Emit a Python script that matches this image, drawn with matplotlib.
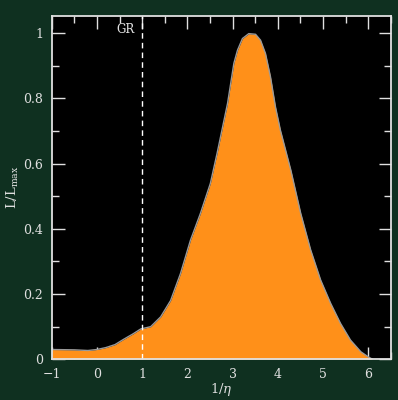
import matplotlib
matplotlib.use("Agg")
import matplotlib.pyplot as plt
from matplotlib.ticker import MultipleLocator

# curve: 1/eta vs L/Lmax
inv_eta = [-1.0, -0.5, -0.2, 0.0, 0.2, 0.4, 0.6, 0.8, 0.97, 1.19, 1.41, 1.63, 1.85,
           2.07, 2.29, 2.51, 2.66, 2.89, 3.03, 3.11, 3.22, 3.36, 3.51, 3.62,
           3.73, 3.84, 3.95, 4.06, 4.29, 4.51, 4.73, 4.95, 5.17, 5.39, 5.61, 5.84,
           6.02, 6.1]
lum = [0.03, 0.029, 0.027, 0.03, 0.036, 0.045, 0.062, 0.078, 0.093, 0.10, 0.13, 0.18,
       0.263, 0.365, 0.447, 0.539, 0.632, 0.784, 0.907, 0.947, 0.983, 0.998,
       0.996, 0.978, 0.937, 0.866, 0.774, 0.702, 0.58, 0.447, 0.335, 0.243, 0.172,
       0.11, 0.059, 0.023, 0.006, 0.0]
gr_value = 1.0

bg = "#0f3020"
fg = "#e0e0e0"
plt.rcParams["font.family"] = "DejaVu Serif"
plt.rcParams["mathtext.fontset"] = "dejavuserif"

fig = plt.figure(figsize=(3.98, 4.0), dpi=100, facecolor=bg)
ax = fig.add_axes([51.7 / 398, 1 - 359.3 / 400, 339 / 398, 343.3 / 400])
ax.set_facecolor("black")

ax.fill_between(inv_eta, lum, 0, color="#ff9019", linewidth=0, zorder=2)
ax.plot(inv_eta, lum, color="#9a9a9a", linewidth=1.0, zorder=3)
ax.axvline(gr_value, color="white", linestyle=(0, (4, 3)), linewidth=1.0, zorder=4)
ax.text(gr_value - 0.17, 1.012, "GR", color=fg, fontsize=8.5,
        ha="right", va="center", zorder=5)

ax.set_xlim(-1, 6.5)
ax.set_ylim(0, 1.052)
ax.xaxis.set_minor_locator(MultipleLocator(0.5))
ax.yaxis.set_minor_locator(MultipleLocator(0.1))
ax.set_yticks([0, 0.2, 0.4, 0.6, 0.8, 1.0])
ax.set_yticklabels(["0", "0.2", "0.4", "0.6", "0.8", "1"])
ax.set_xticks(range(-1, 7))
ax.set_xticklabels(["\u22121", "0", "1", "2", "3", "4", "5", "6"])

ax.tick_params(which="both", direction="in", top=True, right=True, colors=fg,
               labelcolor=fg, labelsize=9, zorder=6)
ax.tick_params(which="major", length=9, width=1.0, pad=6)
ax.tick_params(which="minor", length=5, width=1.0)
for sp in ax.spines.values():
    sp.set_color(fg)
    sp.set_linewidth(1.3)
    sp.set_zorder(6)

fig.text(221 / 398, 1 - 390 / 400, r"1/$\eta$", color=fg, fontsize=9.5,
         ha="center", va="center")
ax.set_ylabel(r"L/L$_{\rm max}$", color=fg, fontsize=9.5)
ax.yaxis.set_label_coords(-31 / 339, 0.5)

fig.savefig("out.png", dpi=100, facecolor=bg)
